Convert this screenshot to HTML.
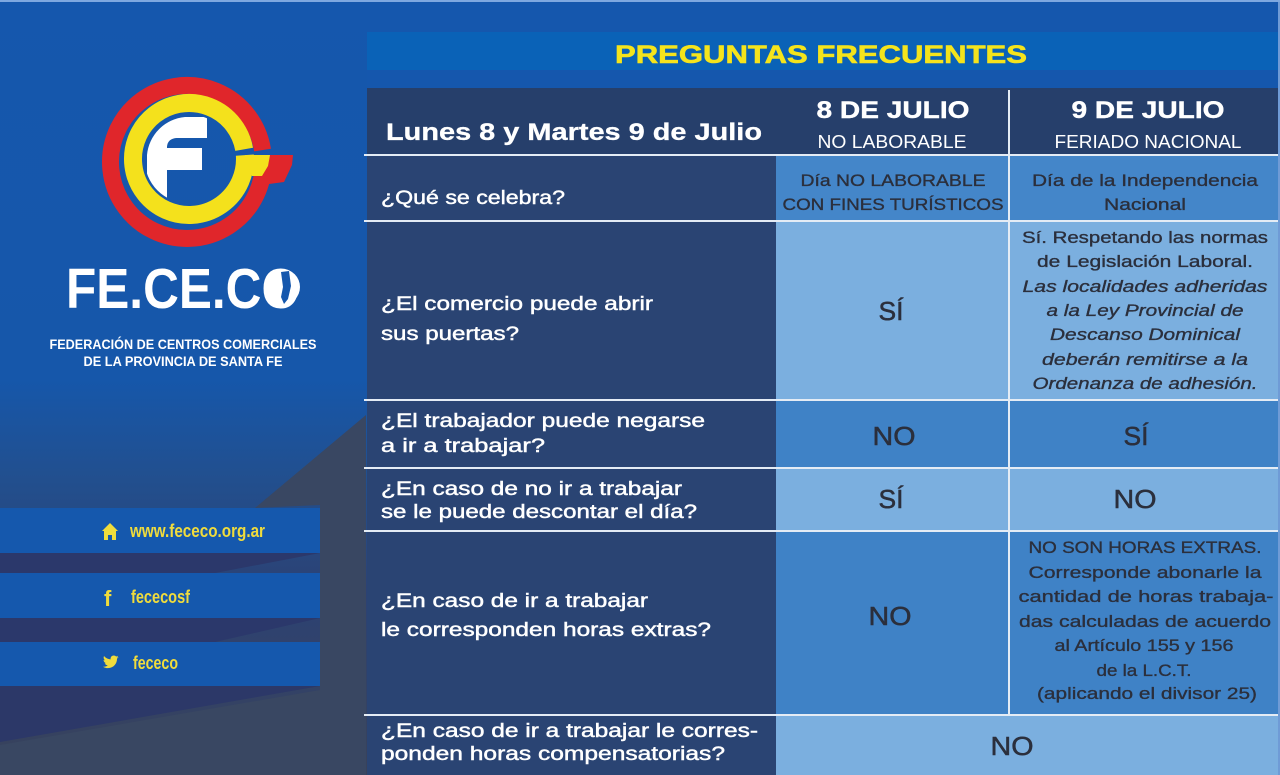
<!DOCTYPE html>
<html><head><meta charset="utf-8"><style>
html,body{margin:0;padding:0;background:#1557ad;}
svg{display:block;}
text{font-family:"Liberation Sans",sans-serif;}
</style></head><body>
<svg width="1280" height="775" viewBox="0 0 1280 775" xmlns="http://www.w3.org/2000/svg">
<defs>
<linearGradient id="lp" x1="0" y1="0" x2="0" y2="1">
<stop offset="0" stop-color="#1557ad"/>
<stop offset="0.49" stop-color="#1657aa"/>
<stop offset="0.62" stop-color="#224f8e"/>
<stop offset="0.76" stop-color="#2c4274"/>
<stop offset="1" stop-color="#39425a"/>
</linearGradient>
<clipPath id="fc"><circle cx="189" cy="159" r="44.5"/></clipPath>
</defs>
<!-- backgrounds -->
<rect x="0" y="0" width="1280" height="775" fill="#1557ad"/>
<rect x="0" y="0" width="367" height="775" fill="url(#lp)"/>
<polygon points="366,415 366,775 0,775 0,745 320,690 320,505 255,508" fill="#394762"/>
<polygon points="0,553 320,553 215,573 0,573" fill="#2b386b"/>
<polygon points="0,618 320,618 215,642 0,642" fill="#2b386b"/>
<polygon points="0,686 320,686 0,742" fill="#2c3868"/>
<rect x="0" y="0" width="1280" height="2" fill="#7ea8e0"/>

<!-- logo -->
<path d="M263.45 159.33 A76.5 76.5 0 1 1 262.56 150.03" fill="none" stroke="#e0262b" stroke-width="17"/>
<polygon points="262,155 293,155 292,165 284,182 269,184 264,168" fill="#e0262b"/>
<path d="M244.86 155.09 A56 56 0 1 1 244.15 149.28" fill="none" stroke="#f4e11c" stroke-width="18"/>
<polygon points="245,155 270,155 268,166 262,176 252,176 248,165" fill="#f4e11c"/>
<g clip-path="url(#fc)">
<path d="M147 200 L147 155 A42 42 0 0 1 185 117 L207 117 L207 138 L178 138 C170 138 167 142 167 148 L202 148 L202 170 L167 170 L167 200 Z" fill="#ffffff"/>
</g>
<text x="66" y="308" font-size="57" font-weight="bold" fill="#ffffff" textLength="234" lengthAdjust="spacingAndGlyphs">FE.CE.CO</text>
<circle cx="282" cy="287" r="18" fill="#ffffff"/>
<path d="M281 272 L289 271 L291 286 L288 299 L284 304 L281 297 L283 287 Z" fill="#1557ad"/>
<text x="183" y="349" font-size="13.5" font-weight="bold" fill="#ffffff" text-anchor="middle" textLength="267" lengthAdjust="spacingAndGlyphs">FEDERACIÓN DE CENTROS COMERCIALES</text>
<text x="183" y="366" font-size="13.5" font-weight="bold" fill="#ffffff" text-anchor="middle" textLength="199" lengthAdjust="spacingAndGlyphs">DE LA PROVINCIA DE SANTA FE</text>

<!-- buttons -->
<rect x="0" y="508" width="320" height="45" fill="#1558ad"/>
<rect x="0" y="573" width="320" height="45" fill="#1558ad"/>
<rect x="0" y="642" width="320" height="44" fill="#1558ad"/>
<polygon points="110,523 118,531 116,531 116,540 112,540 112,535 108,535 108,540 104,540 104,531 102,531" fill="#f0dc3c"/>
<text x="130" y="537" font-size="18" font-weight="bold" fill="#f0dc3c" textLength="135" lengthAdjust="spacingAndGlyphs">www.fececo.org.ar</text>
<text x="104" y="606" font-size="22" font-weight="bold" fill="#f0dc3c">f</text>
<text x="131" y="603" font-size="18" font-weight="bold" fill="#f0dc3c" textLength="59" lengthAdjust="spacingAndGlyphs">fececosf</text>
<g transform="translate(103,654) scale(0.65)"><path fill="#f0dc3c" d="M23.954 4.569c-.885.389-1.83.654-2.825.775 1.014-.611 1.794-1.574 2.163-2.723-.951.555-2.005.959-3.127 1.184-.896-.959-2.173-1.559-3.591-1.559-2.717 0-4.92 2.203-4.920 4.917 0 .39.045.765.127 1.124C7.691 8.094 4.066 6.13 1.64 3.161c-.427.722-.666 1.561-.666 2.475 0 1.71.87 3.213 2.188 4.096-.807-.026-1.566-.248-2.228-.616v.061c0 2.385 1.693 4.374 3.946 4.827-.413.111-.849.171-1.296.171-.314 0-.615-.03-.916-.086.631 1.953 2.445 3.377 4.604 3.417-1.68 1.319-3.809 2.105-6.102 2.105-.39 0-.779-.023-1.17-.067 2.189 1.394 4.768 2.209 7.557 2.209 9.054 0 13.999-7.496 13.999-13.986 0-.209 0-.42-.015-.63.961-.689 1.8-1.56 2.46-2.548l-.047-.02z"/></g>
<text x="133" y="669" font-size="18" font-weight="bold" fill="#f0dc3c" textLength="45" lengthAdjust="spacingAndGlyphs">fececo</text>

<!-- title bar -->
<rect x="367" y="32" width="913" height="38" fill="#0a62b7"/>
<text x="821" y="63" font-size="25" font-weight="bold" fill="#f4e41c" stroke="#f4e41c" stroke-width="0.6" text-anchor="middle" textLength="412" lengthAdjust="spacingAndGlyphs">PREGUNTAS FRECUENTES</text>

<!-- table backgrounds -->
<rect x="367" y="88" width="911" height="67" fill="#263f6b"/>
<rect x="367" y="155" width="409" height="620" fill="#2a4473"/>
<rect x="776" y="155" width="502" height="66" fill="#4486c9"/>
<rect x="776" y="221" width="502" height="179" fill="#7bafdf"/>
<rect x="776" y="400" width="502" height="68" fill="#3f82c6"/>
<rect x="776" y="468" width="502" height="63" fill="#7bafdf"/>
<rect x="776" y="531" width="502" height="184" fill="#3f82c6"/>
<rect x="776" y="715" width="502" height="60" fill="#7bafdf"/>
<rect x="1278" y="2" width="2" height="773" fill="#6f9bd6"/>

<!-- grid lines -->
<g fill="#e4ecf5">
<rect x="364" y="154" width="914" height="2"/>
<rect x="364" y="220" width="914" height="2"/>
<rect x="364" y="399" width="914" height="2"/>
<rect x="364" y="467" width="914" height="2"/>
<rect x="364" y="530" width="914" height="2"/>
<rect x="364" y="714" width="914" height="2"/>
<rect x="1008" y="90" width="2" height="625"/>
</g>

<!-- header text -->
<g fill="#ffffff">
<text x="386" y="140" font-size="24" font-weight="bold" stroke="#ffffff" stroke-width="0.3" textLength="376" lengthAdjust="spacingAndGlyphs">Lunes 8 y Martes 9 de Julio</text>
<text x="893" y="118" font-size="24" font-weight="bold" stroke="#ffffff" stroke-width="0.4" text-anchor="middle" textLength="153" lengthAdjust="spacingAndGlyphs">8 DE JULIO</text>
<text x="892" y="148" font-size="18" text-anchor="middle" textLength="149" lengthAdjust="spacingAndGlyphs">NO LABORABLE</text>
<text x="1148" y="118" font-size="24" font-weight="bold" stroke="#ffffff" stroke-width="0.4" text-anchor="middle" textLength="153" lengthAdjust="spacingAndGlyphs">9 DE JULIO</text>
<text x="1148" y="148" font-size="18" text-anchor="middle" textLength="187" lengthAdjust="spacingAndGlyphs">FERIADO NACIONAL</text>
</g>

<!-- left column questions -->
<g fill="#ffffff" stroke="#ffffff" stroke-width="0.45" font-size="19">
<text x="381" y="204" textLength="184" lengthAdjust="spacingAndGlyphs">¿Qué se celebra?</text>
<text x="381" y="310" textLength="272" lengthAdjust="spacingAndGlyphs">¿El comercio puede abrir</text>
<text x="381" y="340" textLength="138" lengthAdjust="spacingAndGlyphs">sus puertas?</text>
<text x="381" y="427" textLength="324" lengthAdjust="spacingAndGlyphs">¿El trabajador puede negarse</text>
<text x="381" y="452" textLength="164" lengthAdjust="spacingAndGlyphs">a ir a trabajar?</text>
<text x="381" y="495" textLength="301" lengthAdjust="spacingAndGlyphs">¿En caso de no ir a trabajar</text>
<text x="381" y="518" textLength="316" lengthAdjust="spacingAndGlyphs">se le puede descontar el día?</text>
<text x="381" y="607" textLength="267" lengthAdjust="spacingAndGlyphs">¿En caso de ir a trabajar</text>
<text x="381" y="636" textLength="330" lengthAdjust="spacingAndGlyphs">le corresponden horas extras?</text>
<text x="381" y="737" textLength="377" lengthAdjust="spacingAndGlyphs">¿En caso de ir a trabajar le corres-</text>
<text x="381" y="760" textLength="344" lengthAdjust="spacingAndGlyphs">ponden horas compensatorias?</text>
</g>

<!-- answers -->
<g fill="#2b2f3c" stroke="#2b2f3c" stroke-width="0.35" font-size="17" text-anchor="middle">
<text x="893" y="186" textLength="185" lengthAdjust="spacingAndGlyphs">Día NO LABORABLE</text>
<text x="893" y="210" textLength="221" lengthAdjust="spacingAndGlyphs">CON FINES TURÍSTICOS</text>
<text x="1145" y="186" textLength="226" lengthAdjust="spacingAndGlyphs">Día de la Independencia</text>
<text x="1145" y="210" textLength="82" lengthAdjust="spacingAndGlyphs">Nacional</text>

<text x="1145" y="243" textLength="246" lengthAdjust="spacingAndGlyphs">Sí. Respetando las normas</text>
<text x="1145" y="267" textLength="216" lengthAdjust="spacingAndGlyphs">de Legislación Laboral.</text>
<text x="1145" y="292" font-style="italic" textLength="245" lengthAdjust="spacingAndGlyphs">Las localidades adheridas</text>
<text x="1145" y="316" font-style="italic" textLength="197" lengthAdjust="spacingAndGlyphs">a la Ley Provincial de</text>
<text x="1145" y="340" font-style="italic" textLength="190" lengthAdjust="spacingAndGlyphs">Descanso Dominical</text>
<text x="1145" y="365" font-style="italic" textLength="206" lengthAdjust="spacingAndGlyphs">deberán remitirse a la</text>
<text x="1145" y="389" font-style="italic" textLength="225" lengthAdjust="spacingAndGlyphs">Ordenanza de adhesión.</text>

<text x="1145" y="553" textLength="233" lengthAdjust="spacingAndGlyphs">NO SON HORAS EXTRAS.</text>
<text x="1145" y="578" textLength="233" lengthAdjust="spacingAndGlyphs">Corresponde abonarle la</text>
<text x="1146" y="602" textLength="255" lengthAdjust="spacingAndGlyphs">cantidad de horas trabaja-</text>
<text x="1145" y="627" textLength="252" lengthAdjust="spacingAndGlyphs">das calculadas de acuerdo</text>
<text x="1144" y="651" textLength="179" lengthAdjust="spacingAndGlyphs">al Artículo 155 y 156</text>
<text x="1144" y="676" textLength="95" lengthAdjust="spacingAndGlyphs">de la L.C.T.</text>
<text x="1147" y="699" textLength="220" lengthAdjust="spacingAndGlyphs">(aplicando el divisor 25)</text>
</g>

<g fill="#2b2f3c" stroke="#2b2f3c" stroke-width="0.5" font-size="26" text-anchor="middle">
<text x="891" y="320" textLength="25" lengthAdjust="spacingAndGlyphs">SÍ</text>
<text x="894" y="445" textLength="43" lengthAdjust="spacingAndGlyphs">NO</text>
<text x="1136" y="445" textLength="25" lengthAdjust="spacingAndGlyphs">SÍ</text>
<text x="891" y="508" textLength="25" lengthAdjust="spacingAndGlyphs">SÍ</text>
<text x="1135" y="508" textLength="43" lengthAdjust="spacingAndGlyphs">NO</text>
<text x="890" y="625" textLength="43" lengthAdjust="spacingAndGlyphs">NO</text>
<text x="1012" y="755" textLength="43" lengthAdjust="spacingAndGlyphs">NO</text>
</g>
</svg>
</body></html>
